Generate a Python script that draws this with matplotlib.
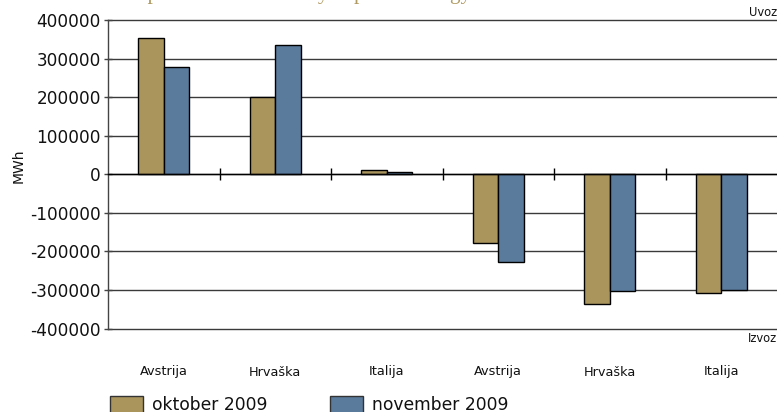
import matplotlib
matplotlib.use("Agg")
import matplotlib.pyplot as plt
import matplotlib.transforms as mtransforms
from matplotlib.patches import Rectangle
import numpy as np

# ---- data ----
categories = ['Avstrija', 'Hrvaška', 'Italija', 'Avstrija', 'Hrvaška', 'Italija']
series_names = ['oktober 2009', 'november 2009']
oktober = [354000, 201000, 10400, -178000, -336000, -309000]
november = [277000, 335000, 5200, -228000, -304000, -300000]
yticks = [-400000, -300000, -200000, -100000, 0, 100000, 200000, 300000, 400000]
title_text = 'Import and net flows by exported energy'

# ---- style ----
C_OKT = '#aa955d'
C_NOV = '#5a7b9c'
TITLE_C = '#b09a62'

W, H = 777, 412
fig = plt.figure(figsize=(W / 100, H / 100), dpi=100)
ax_left, ax_right, ax_top, ax_bot = 108, 777, 20, 328.5
ax = fig.add_axes([ax_left / W, (H - ax_bot) / H, (ax_right - ax_left) / W, (ax_bot - ax_top) / H])

x = np.arange(len(categories))
bw = 0.23
ax.bar(x - bw / 2, oktober, width=bw, color=C_OKT, edgecolor='black', linewidth=1, zorder=3)
ax.bar(x + bw / 2, november, width=bw, color=C_NOV, edgecolor='black', linewidth=1, zorder=3)

ax.set_xlim(-0.5, len(categories) - 0.5)
ax.set_ylim(yticks[0], yticks[-1])
ax.set_yticks(yticks)
ax.set_yticklabels([str(v) for v in yticks], fontsize=12.2, color='#111111')
ax.yaxis.grid(True, color='#3a3a3a', linewidth=1.0, zorder=0)
for gl in ax.get_ygridlines():
    gl.set_clip_on(False)
ax.set_axisbelow(True)

for s in ['top', 'right']:
    ax.spines[s].set_visible(False)
ax.spines['left'].set_color('#444444')
ax.spines['left'].set_linewidth(1.0)
ax.spines['bottom'].set_position(('data', 0))
ax.spines['bottom'].set_color('black')
ax.spines['bottom'].set_linewidth(1.0)
ax.spines['bottom'].set_zorder(4)

ax.set_xticks(x[:-1] + 0.5)
ax.tick_params(axis='x', direction='inout', length=9, width=1, color='black', labelbottom=False)
ax.tick_params(axis='y', direction='inout', length=6, width=1, color='#444444', pad=2)

trans = mtransforms.blended_transform_factory(ax.transData, ax.transAxes)
label_y = (ax_bot - 372) / (ax_bot - ax_top)
for xi, cat in zip(x, categories):
    ax.text(xi, label_y, cat, transform=trans, ha='center', va='center', fontsize=9.3, color='#111111')

fig.text(19 / W, (H - 166) / H, 'MWh', rotation=90, ha='center', va='center', fontsize=10, color='#111111')
fig.text(777 / W, (H - 12.5) / H, 'Uvoz', ha='right', va='center', fontsize=8.3, color='#111111')
fig.text(777 / W, (H - 338) / H, 'Izvoz', ha='right', va='center', fontsize=8.3, color='#111111')

# partially cropped title (only descenders visible)
fig.text(124 / W, 1.0 + 0.5 / H, title_text, ha='left', va='baseline',
         fontsize=15.3, family='Liberation Serif', color=TITLE_C)

# legend drawn at bottom (cropped)
for px, name, col in [(110, series_names[0], C_OKT), (330, series_names[1], C_NOV)]:
    fig.add_artist(Rectangle((px / W, -10 / H), 33 / W, (H - 396 + 10) / H,
                             transform=fig.transFigure, facecolor=col,
                             edgecolor='#333333', linewidth=1.0))
    fig.text((px + 42) / W, (H - 410) / H, name, ha='left', va='baseline',
             fontsize=12.3, color='#111111')

fig.savefig('out.png', dpi=100)
